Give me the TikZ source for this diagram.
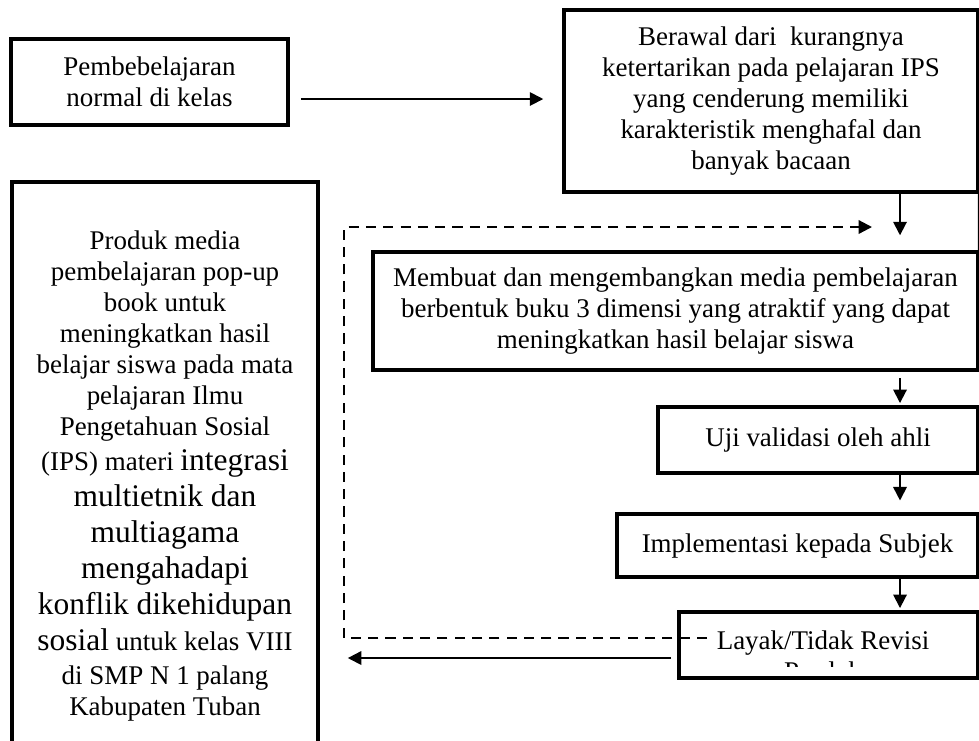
\documentclass[tikz,border=0pt]{standalone}
\usepackage{fontspec}
\setmainfont{Liberation Serif}
\usetikzlibrary{arrows.meta,calc}
\newcommand{\bigtx}{\fontsize{14}{16.5}\selectfont}
\begin{document}
\begin{tikzpicture}[x=0.445pt,y=-0.445pt,
  box/.style={draw,line width=1.5pt,fill=white,inner sep=0pt,align=center,font=\fontsize{12}{13.8}\selectfont},
  arr/.style={line width=0.8pt,-{Triangle[length=6pt,width=6pt]}},
  dsh/.style={line width=1pt,dash pattern=on 4.5pt off 3.2pt,-{Triangle[length=6pt,width=6pt]}}]
\clip (0,0) rectangle (979,740);
\fill[white] (0,0) rectangle (979,740);
% boxes
\node[box,minimum width=123.3pt,minimum height=38.3pt] (A) at (149.5,82) {Pembebelajaran\\normal di kelas};
\node[box,minimum width=184.2pt,minimum height=81pt] (B) at (771,101) {Berawal dari\ \ kurangnya\\ketertarikan pada pelajaran IPS\\yang cenderung memiliki\\karakteristik menghafal dan\\banyak bacaan};
\node[box,minimum width=269.2pt,minimum height=52.5pt] (C) at (675.5,311) {Membuat dan mengembangkan media pembelajaran\\berbentuk buku 3 dimensi yang atraktif yang dapat\\meningkatkan hasil belajar siswa};
\node[box,minimum width=142.4pt,minimum height=29.4pt] (D) at (818,440) {Uji validasi oleh ahli};
\node[box,minimum width=160.6pt,minimum height=28pt] (E) at (797.5,545.5) {Implementasi kepada Subjek};
\node[box,minimum width=133pt,minimum height=29.4pt] (F) at (828.5,645) {};
\begin{scope}
\clip (681,614) rectangle (976,666);
\node[align=center,inner sep=0pt,font=\fontsize{12}{13.8}\selectfont] (Ft) at (823,656) {Layak/Tidak Revisi\\Produk};
\end{scope}
\node[box,minimum width=136.2pt,minimum height=261.7pt] (L) at (165,476) {Produk media\\
pembelajaran pop-up\\
book untuk\\
meningkatkan hasil\\
belajar siswa pada mata\\
pelajaran Ilmu\\
Pengetahuan Sosial\\[2pt]
(IPS) materi {\bigtx integrasi}\\[2.2pt]
{\bigtx multietnik dan}\\[2.2pt]
{\bigtx multiagama}\\[2.2pt]
{\bigtx mengahadapi}\\[2.2pt]
{\bigtx konflik dikehidupan}\\[2.2pt]
{\bigtx sosial} untuk kelas VIII\\[1.5pt]
di SMP N 1 palang\\
Kabupaten Tuban};
% helper coordinates
\coordinate (cx) at (900,0);
\coordinate (ay) at (0,99);
\coordinate (s0) at (671,658);
\coordinate (dS) at (707,638);
\coordinate (dA) at (344,638);
\coordinate (dB) at (344,227);
\coordinate (dE) at (872,227);
% connectors
\draw[arr,shorten <=5pt,shorten >=8.5pt] (A.east |- ay) -- (B.west |- ay);
\draw[arr,shorten >=6.7pt] (cx |- B.south) -- (cx |- C.north);
\draw[arr,shorten <=3pt,shorten >=1pt] (cx |- C.south) -- (cx |- D.north);
\draw[arr,shorten >=5.3pt] (cx |- D.south) -- (cx |- E.north);
\draw[arr,shorten >=1pt] (cx |- E.south) -- (cx |- F.north);
\draw[arr,shorten >=12.5pt] (s0) -- (L.east |- s0);
\draw[dsh] (dS) -- (dA) -- (dB) -- (dE);
\draw[line width=1.5pt] (B.south east) -- (C.north east);
\end{tikzpicture}
\end{document}
